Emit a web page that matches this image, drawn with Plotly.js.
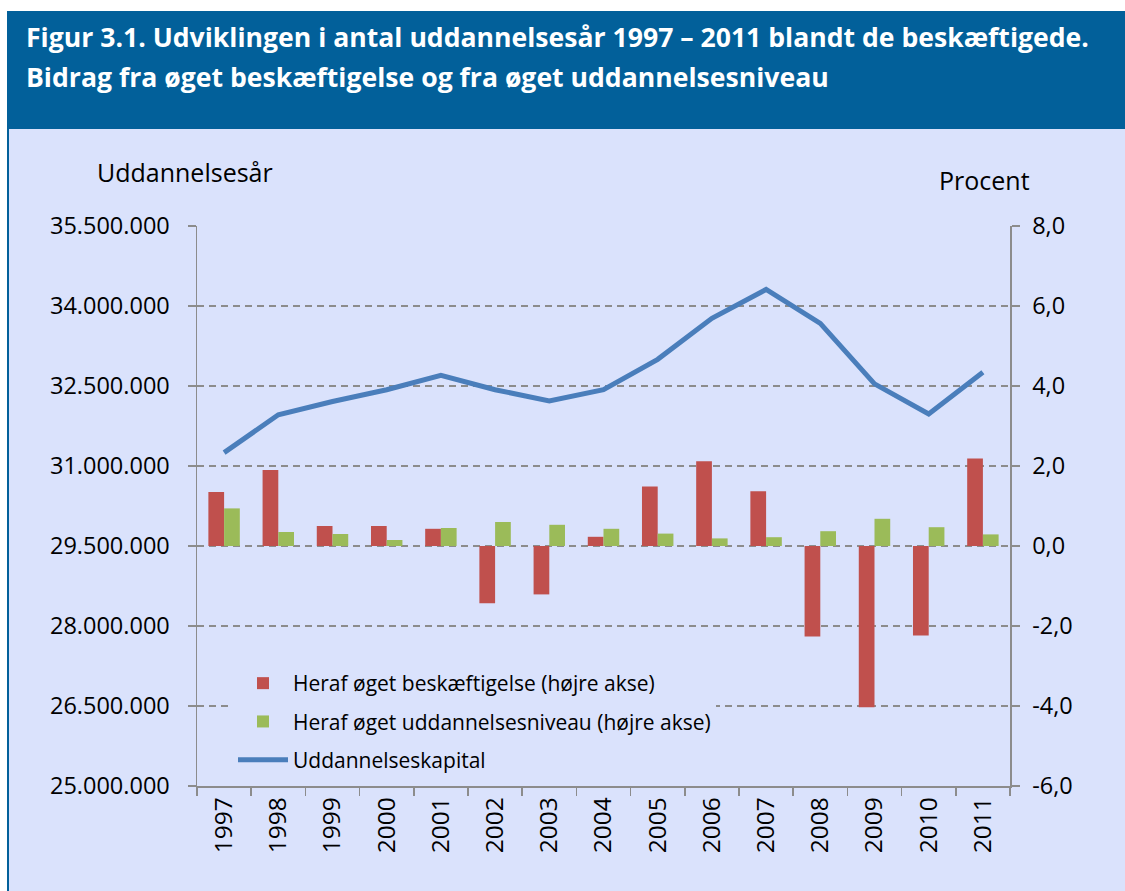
<!DOCTYPE html>
<html><head><meta charset="utf-8">
<script src="https://cdn.plot.ly/plotly-3.0.1.min.js"></script>
<style>html,body{margin:0;padding:0;background:#fff;} #chart{width:1125px;height:891px;}</style>
</head><body><div id="chart"></div>
<script>
// ---- data ----
const years = ['1997','1998','1999','2000','2001','2002','2003','2004','2005','2006','2007','2008','2009','2010','2011'];
const beskaeftigelse = [1.35, 1.90, 0.50, 0.50, 0.43, -1.43, -1.21, 0.23, 1.49, 2.12, 1.37, -2.26, -4.03, -2.24, 2.19];
const uddannelsesniveau = [0.94, 0.35, 0.30, 0.15, 0.45, 0.60, 0.53, 0.43, 0.31, 0.19, 0.22, 0.37, 0.68, 0.47, 0.29];
const uddannelseskapital = [31250000, 31960000, 32210000, 32430000, 32700000, 32430000, 32220000, 32430000, 33000000, 33770000, 34310000, 33675000, 32540000, 31975000, 32756000];
const leftTickVals = [25000000, 26500000, 28000000, 29500000, 31000000, 32500000, 34000000, 35500000];
const leftTickText = ['25.000.000', '26.500.000', '28.000.000', '29.500.000', '31.000.000', '32.500.000', '34.000.000', '35.500.000'];
const rightTickVals = [-6, -4, -2, 0, 2, 4, 6, 8];
const rightTickText = ['-6,0', '-4,0', '-2,0', '0,0', '2,0', '4,0', '6,0', '8,0'];
const titleLine1 = 'Figur 3.1. Udviklingen i antal uddannelsesår 1997 – 2011 blandt de beskæftigede.';
const titleLine2 = 'Bidrag fra øget beskæftigelse og fra øget uddannelsesniveau';

// ---- layout helpers ----
const W = 1125, H = 891;
const M = {l: 197, r: 115, t: 226, b: 105};
const PW = W - M.l - M.r, PH = H - M.t - M.b;
const px = v => (v - M.l) / PW;
const py = v => (H - M.b - v) / PH;

const FONT = "'Open Sans', 'Liberation Sans', sans-serif";
const BG = '#DAE2FC';
const HEADER = '#02609A';
const GRID = '#8C8C8C';

const traces = [
  {type: 'bar', name: 'Heraf øget beskæftigelse (højre akse)', x: years, y: beskaeftigelse,
   yaxis: 'y2', marker: {color: '#C0504D'}, legendgroup: 'a'},
  {type: 'bar', name: 'Heraf øget uddannelsesniveau (højre akse)', x: years, y: uddannelsesniveau,
   yaxis: 'y2', marker: {color: '#9BBB59'}, legendgroup: 'b'},
  {type: 'scatter', mode: 'lines', name: 'Uddannelseskapital', x: years, y: uddannelseskapital,
   yaxis: 'y', line: {color: '#4A7EBB', width: 5}, legendgroup: 'c'}
];

const layout = {
  width: W, height: H,
  margin: M,
  paper_bgcolor: BG,
  plot_bgcolor: 'rgba(0,0,0,0)',
  font: {family: FONT, color: '#000'},
  barmode: 'group', bargap: 0.42, bargroupgap: 0,
  showlegend: true,
  legend: {x: px(233), y: py(663), xanchor: 'left', yanchor: 'top',
           bgcolor: BG, font: {size: 21, family: FONT}, traceorder: 'grouped',
           tracegroupgap: 8, itemwidth: 50},
  xaxis: {type: 'category', tickson: 'boundaries', ticks: 'outside', ticklen: 8, tickwidth: 1.5,
          tickcolor: GRID, showline: true, linecolor: GRID, linewidth: 1.5,
          tickangle: -90, tickfont: {size: 24.5, family: FONT}, showgrid: false, fixedrange: true},
  yaxis: {range: [25000000, 35500000], tickvals: leftTickVals, ticktext: leftTickText,
          ticks: 'outside', ticklen: 8, tickwidth: 1.5, tickcolor: GRID,
          showline: true, linecolor: GRID, linewidth: 1.5,
          showgrid: true, gridcolor: GRID, gridwidth: 1.5, griddash: '7px,5px',
          zeroline: false, tickfont: {size: 23.5, family: FONT}, ticklabelstandoff: 13},
  yaxis2: {range: [-6, 8], tickvals: rightTickVals, ticktext: rightTickText, overlaying: 'y', side: 'right',
           ticks: 'outside', ticklen: 8, tickwidth: 1.5, tickcolor: GRID,
           showline: true, linecolor: GRID, linewidth: 1.5,
           showgrid: false, zeroline: false, tickfont: {size: 23.5, family: FONT}, ticklabelstandoff: 8},
  shapes: [
    {type: 'rect', xref: 'paper', yref: 'paper', x0: px(0), x1: px(W), y0: py(11), y1: py(0),
     fillcolor: '#FFFFFF', line: {width: 0}, layer: 'below'},
    {type: 'rect', xref: 'paper', yref: 'paper', x0: px(0), x1: px(7), y0: py(H), y1: py(0),
     fillcolor: '#FFFFFF', line: {width: 0}, layer: 'below'},
    {type: 'rect', xref: 'paper', yref: 'paper', x0: px(7), x1: px(W), y0: py(129), y1: py(11),
     fillcolor: HEADER, line: {width: 0}, layer: 'below'},
    {type: 'rect', xref: 'paper', yref: 'paper', x0: px(7), x1: px(9), y0: py(H), y1: py(129),
     fillcolor: HEADER, line: {width: 0}, layer: 'below'},
    // legend area background (hides gridline behind legend box, as in the original)
    {type: 'rect', xref: 'paper', yref: 'paper', x0: px(199), x1: px(748), y0: py(778), y1: py(662),
     fillcolor: BG, line: {width: 0}, layer: 'between'}
  ],
  annotations: [
    {text: '<b>' + titleLine1 + '</b>', xref: 'paper', yref: 'paper', x: px(24), y: py(37),
     xanchor: 'left', yanchor: 'middle', showarrow: false, font: {size: 26.6, color: '#FFFFFF', family: FONT}},
    {text: '<b>' + titleLine2 + '</b>', xref: 'paper', yref: 'paper', x: px(24), y: py(77),
     xanchor: 'left', yanchor: 'middle', showarrow: false, font: {size: 26.6, color: '#FFFFFF', family: FONT}},
    {text: 'Uddannelsesår', xref: 'paper', yref: 'paper', x: px(95), y: py(172),
     xanchor: 'left', yanchor: 'middle', showarrow: false, font: {size: 25, family: FONT}},
    {text: 'Procent', xref: 'paper', yref: 'paper', x: px(937), y: py(180),
     xanchor: 'left', yanchor: 'middle', showarrow: false, font: {size: 25, family: FONT}}
  ]
};

Plotly.newPlot('chart', traces, layout, {displayModeBar: false, staticPlot: true});
</script>
</body></html>
